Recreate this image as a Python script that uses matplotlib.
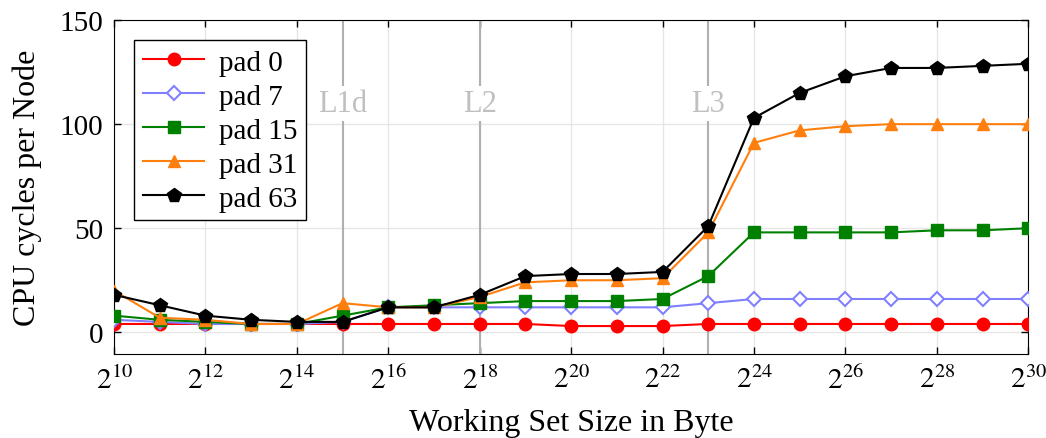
import numpy as np
import matplotlib
matplotlib.use("Agg")
import matplotlib.pyplot as plt
from matplotlib.ticker import FixedLocator, FuncFormatter

plt.rcParams['font.family'] = ['Liberation Serif', 'DejaVu Serif']
plt.rcParams['mathtext.fontset'] = 'stix'

# Working set sizes: 2^10 ... 2^30
exps = list(range(10, 31))

pad0 = [4, 4, 4, 4, 4, 4, 4, 4, 4, 4, 3, 3, 3, 4, 4, 4, 4, 4, 4, 4, 4]
pad7 = [6, 5, 4, 4, 4, 5, 12, 12, 12, 12, 12, 12, 12, 14, 16, 16, 16, 16, 16, 16, 16]
pad15 = [8, 6, 5, 4, 4, 8, 12, 13, 14, 15, 15, 15, 16, 27, 48, 48, 48, 48, 49, 49, 50]
pad31 = [20, 7, 6, 4, 4, 14, 12, 12, 17, 24, 25, 25, 26, 48, 91, 97, 99, 100, 100, 100, 100]
pad63 = [18, 13, 8, 6, 5, 5, 12, 12, 18, 27, 28, 28, 29, 51, 103, 115, 123, 127, 127, 128, 129]

cache_exps = [15, 18, 23]
cache_names = ['L1d', 'L2', 'L3']

series = [
    ('pad 0', pad0, dict(color='red', marker='o', mfc='red')),
    ('pad 7', pad7, dict(color='#8080ff', marker='D', mfc='white', markersize=7, mew=1.5)),
    ('pad 15', pad15, dict(color='green', marker='s', mfc='green')),
    ('pad 31', pad31, dict(color='#ff7f0e', marker='^', mfc='#ff7f0e')),
    ('pad 63', pad63, dict(color='black', marker='p', mfc='black', markersize=10)),
]

fig = plt.figure(figsize=(10.46, 4.39), dpi=100)
ax = fig.add_axes([0.109, 0.191, 0.874, 0.761])

x = np.power(2.0, exps)
for label, vals, style in series:
    kw = dict(markersize=9, linewidth=1.5)
    kw.update(style)
    ax.plot(x, vals, label=label, zorder=3, **kw)

ax.set_xscale('log', base=2)
ax.set_xlim(2.0**10, 2.0**30)
ax.set_ylim(-10.5, 150)

for e, name in zip(cache_exps, cache_names):
    ax.axvline(2.0**e, color='#b0b0b0', linewidth=1.5, zorder=1)
    ax.text(2.0**e, 110, name, color='#c0c0c0', fontsize=22, ha='center', va='center',
            bbox=dict(facecolor='white', edgecolor='none', pad=2), zorder=2)

ax.xaxis.set_major_locator(FixedLocator([2.0**e for e in range(10, 31, 2)]))
ax.xaxis.set_minor_locator(FixedLocator([]))
ax.xaxis.set_major_formatter(FuncFormatter(lambda v, p: r'$2^{%d}$' % round(np.log2(v))))
ax.set_yticks([0, 50, 100, 150])

ax.grid(True, color='#e6e6e6', linewidth=1.0, zorder=0)
ax.set_axisbelow(True)
ax.tick_params(direction='in', top=True, right=True, length=5, width=1, labelsize=21, pad=8)

ax.set_xlabel('Working Set Size in Byte', fontsize=23, labelpad=10)
ax.set_ylabel('CPU cycles per Node', fontsize=23, labelpad=12)

leg = ax.legend(loc='upper left', fontsize=21, frameon=True, fancybox=False,
                edgecolor='black', framealpha=1, borderaxespad=0.7,
                handlelength=2.1, labelspacing=0.26, borderpad=0.3, handletextpad=0.5)
leg.get_frame().set_linewidth(1.0)

fig.savefig('out.png', dpi=100)
